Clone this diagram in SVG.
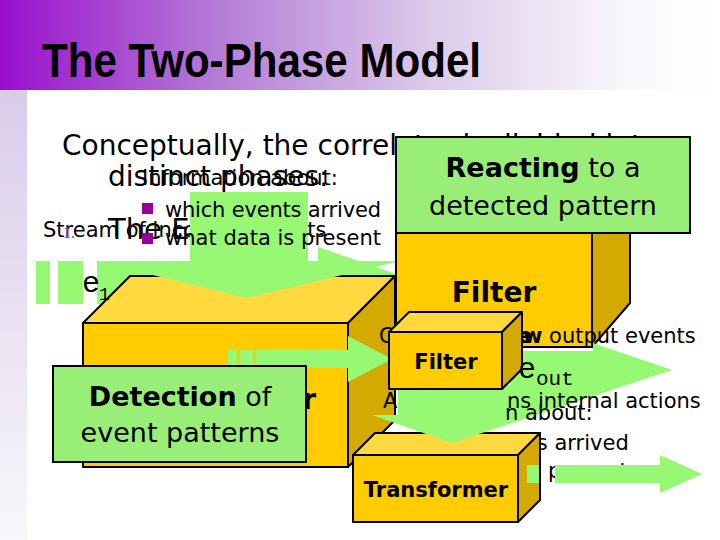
<svg xmlns="http://www.w3.org/2000/svg" width="720" height="540" viewBox="0 0 720 540">
<defs>
<linearGradient id="hdr" x1="0" y1="0" x2="1" y2="0">
<stop offset="0" stop-color="#9a0fcc"/>
<stop offset="0.3" stop-color="#b47cd6"/>
<stop offset="0.6" stop-color="#dccbea"/>
<stop offset="0.88" stop-color="#faf8fc"/>
<stop offset="1" stop-color="#ffffff"/>
</linearGradient>
<linearGradient id="strip" x1="0" y1="0" x2="0" y2="1">
<stop offset="0" stop-color="#d9cce9"/>
<stop offset="1" stop-color="#f8f7fb"/>
</linearGradient>
<style>
.t{font-family:"DejaVu Sans",Verdana,sans-serif;fill:#000}
.b{font-weight:bold}
.mono{font-family:"Liberation Mono","Courier New",monospace;fill:#000}
.front{fill:#ffcc00;stroke:#000;stroke-width:2;stroke-linejoin:round}
.topf{fill:#ffd93d;stroke:#000;stroke-width:2;stroke-linejoin:round}
.side{fill:#d4a900;stroke:#000;stroke-width:2;stroke-linejoin:round}
.gbox{fill:#99ee77;stroke:#000;stroke-width:2}
.arrow{fill:#97f973}
.bul{fill:#990099}
</style>
</defs>
<rect width="720" height="540" fill="#fff"/>
<rect x="0" y="0" width="720" height="90" fill="url(#hdr)"/>
<rect x="0" y="90" width="27" height="450" fill="url(#strip)"/>
<text x="42" y="77" font-family="Liberation Sans, Arial, sans-serif" font-weight="bold" font-size="48" textLength="439" lengthAdjust="spacingAndGlyphs">The Two-Phase Model</text>

<g id="intro-text">
<text class="t" x="62" y="155" font-size="28">Conceptually, the correlator is divided into</text>
<text class="t" x="108" y="186" font-size="28">distinct phases:</text>
<text class="t" x="142" y="185" font-size="21">Information about:</text>
<text class="t" x="43" y="237" font-size="21">Stream of incoming events</text>
<text x="63" y="238" font-family="Liberation Serif, serif" font-size="16" fill="#993399">1.</text>
<text class="t" x="108" y="239" font-size="29">The E</text>
</g>

<g id="connectors-back">
<rect class="arrow" x="36" y="261" width="14" height="43"/>
<rect class="arrow" x="58" y="261" width="25" height="43"/>
<polygon class="arrow" points="97,261 318,261 318,247 419,282 318,317 318,304 97,304"/>
</g>

<g id="correlator">
<polygon class="front" points="83,323 348,323 348,467 83,467"/>
<polygon class="topf" points="83,323 130,276 395,276 348,323"/>
<polygon class="side" points="348,323 395,276 395,420 348,467"/>
<text class="t b" x="316" y="409" font-size="28" text-anchor="end">Correlator</text>
</g>

<g id="connectors-input">
<polygon class="arrow" points="190,192 308,192 308,261 400,261 247,298 95,261 190,261"/>
</g>

<g id="stream-label">
<text class="mono" x="82" y="292" font-size="30">e</text>
<text class="mono" x="99" y="300" font-size="18">1</text>
</g>

<g id="info-bullets">
<rect class="bul" x="142" y="203" width="11" height="11"/>
<rect class="bul" x="142" y="233" width="11" height="11"/>
<text class="t" x="165" y="217" font-size="21" textLength="216">which events arrived</text>
<text class="t" x="165" y="245" font-size="21" textLength="216">what data is present</text>
</g>

<g id="filter-big">
<polygon class="front" points="396,193 592,193 592,347 396,347"/>
<polygon class="topf" points="396,193 434,151 630,151 592,193"/>
<polygon class="side" points="592,193 630,151 630,303 592,347"/>
<text class="t b" x="494" y="302" font-size="28" text-anchor="middle">Filter</text>
</g>

<g id="reacting">
<rect class="gbox" x="396" y="137" width="294" height="96"/>
<text class="t" x="543" y="177" font-size="27" text-anchor="middle"><tspan class="b">Reacting</tspan> to a</text>
<text class="t" x="543" y="215" font-size="27" text-anchor="middle">detected pattern</text>
</g>

<g id="output-text">
<text class="t" font-size="21" y="343"><tspan x="379">Generating </tspan><tspan class="b">ne</tspan><tspan x="523" class="b">w</tspan><tspan> output events</tspan></text>
<text class="t" x="477" y="450" font-size="21">events arrived</text>
<text class="t" x="548" y="478" font-size="21">present</text>
</g>

<g id="connectors-detect">
<rect class="arrow" x="228" y="350" width="9" height="18"/>
<rect class="arrow" x="240" y="350" width="13" height="18"/>
<polygon class="arrow" points="256,350 348,350 348,336 392,359 348,382 348,368 256,368"/>
</g>

<g id="detection">
<rect class="gbox" x="53" y="366" width="253" height="96"/>
<text class="t" x="180" y="406" font-size="27" text-anchor="middle"><tspan class="b">Detection</tspan> of</text>
<text class="t" x="180" y="442" font-size="27" text-anchor="middle">event patterns</text>
</g>

<g id="transformer">
<polygon class="front" points="353,455 518,455 518,522 353,522"/>
<polygon class="topf" points="353,455 375,433 540,433 518,455"/>
<polygon class="side" points="518,455 540,433 540,500 518,522"/>
<text class="t b" x="436" y="497" font-size="21" text-anchor="middle">Transformer</text>
</g>

<g id="connectors-filter">
<polygon class="arrow" points="398,385 398,415 372,415 452,443 672,370 593,343 593,351 510,351 510,385"/>
</g>

<g id="filter-small">
<polygon class="front" points="389,332 502,332 502,389 389,389"/>
<polygon class="topf" points="389,332 409,312 522,312 502,332"/>
<polygon class="side" points="502,332 522,312 522,369 502,389"/>
<text class="t b" x="446" y="369" font-size="21" text-anchor="middle">Filter</text>
</g>

<g id="output-labels">
<text class="mono" x="518" y="378" font-size="30">e</text>
<text class="mono" x="536" y="385" font-size="21">out</text>
<text class="t" x="383" y="408" font-size="21">A</text>
<text class="t" x="507" y="408" font-size="21">ns internal actions</text>
<text class="t" x="505" y="420" font-size="21">n about:</text>
</g>

<g id="connectors-output">
<rect class="arrow" x="527" y="465" width="12" height="18"/>
<polygon class="arrow" points="555,465 660,465 660,455 702,474 660,493 660,483 555,483"/>
</g>
</svg>
